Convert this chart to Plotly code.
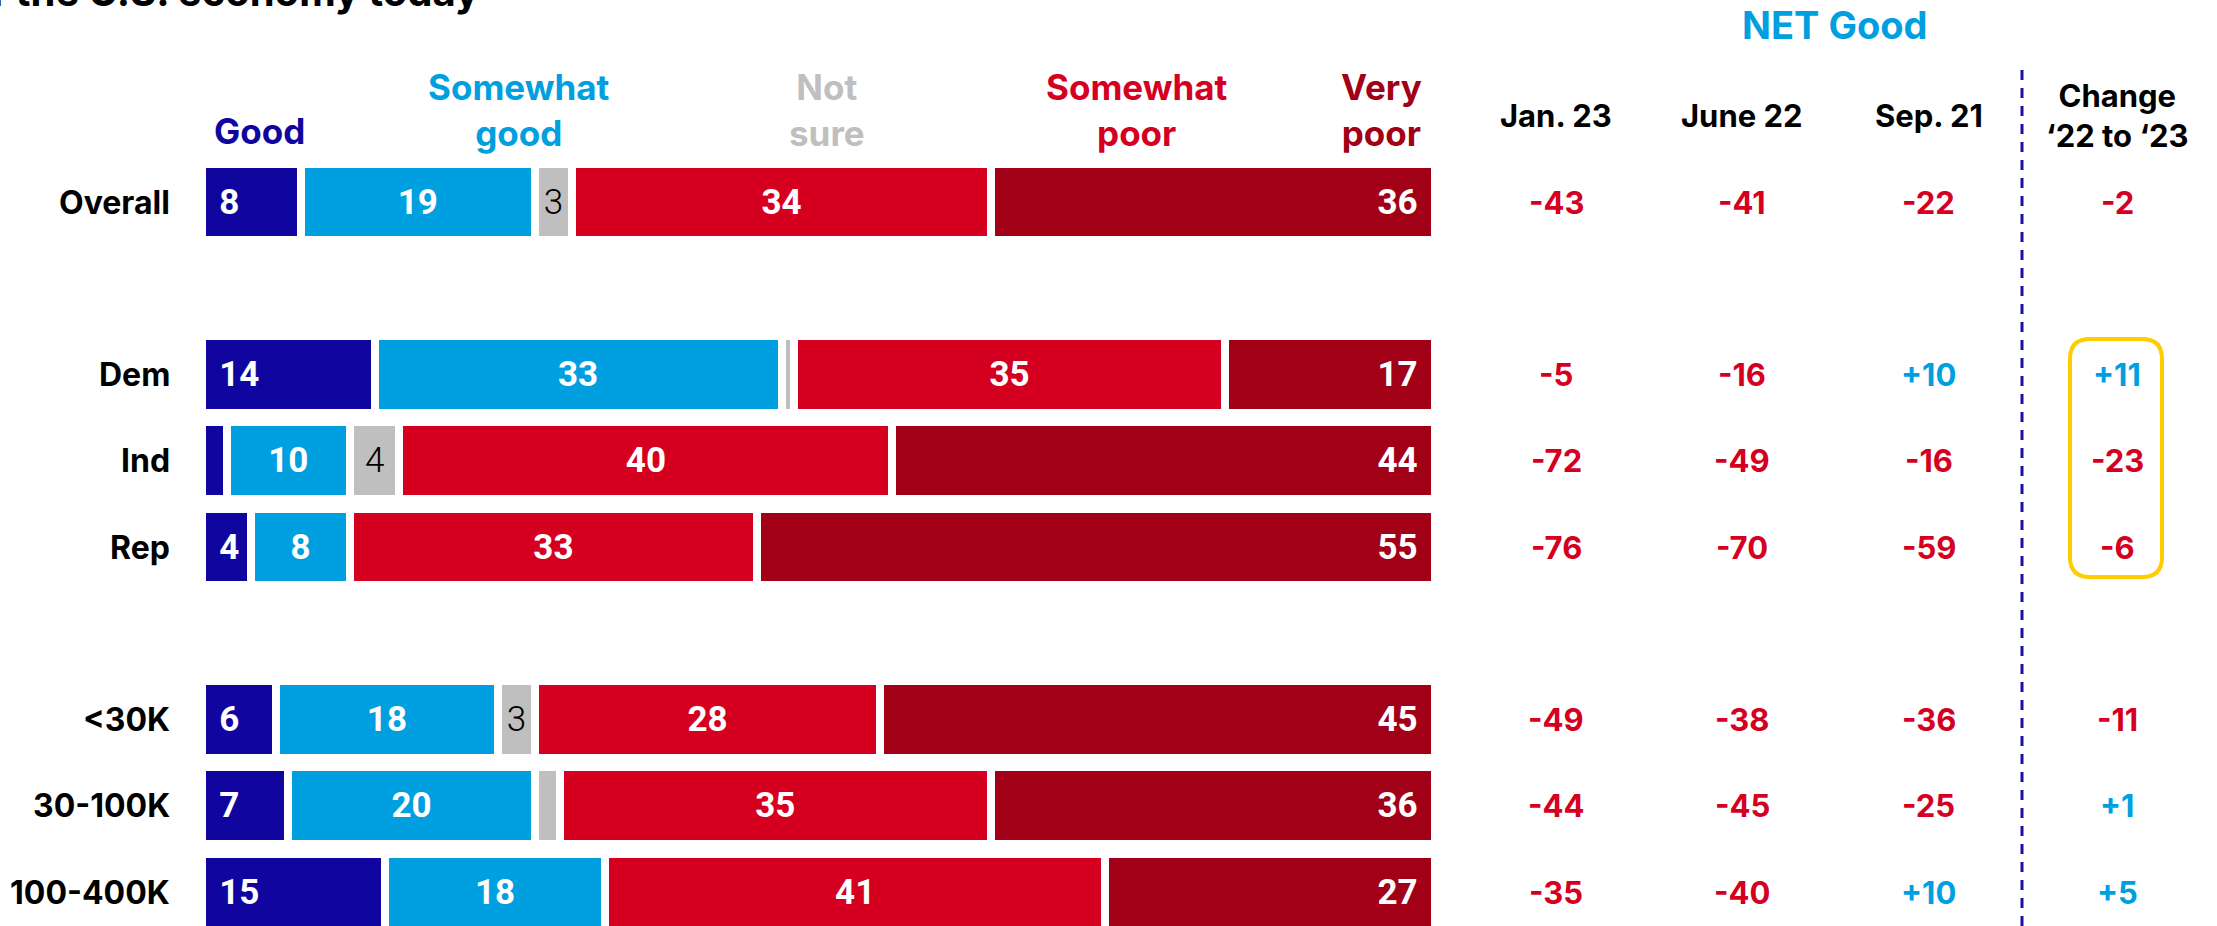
import plotly.graph_objects as go

W, H = 2217, 926

# ---------------- data ----------------
groups = ["Overall", "Dem", "Ind", "Rep", "<30K", "30-100K", "100-400K"]
row_pos = [0, 2, 3, 4, 6, 7, 8]

good = [8, 14, 2, 4, 6, 7, 15]
somewhat_good = [19, 33, 10, 8, 18, 20, 18]
not_sure = [3, 1, 4, 0, 3, 2, 0]
somewhat_poor = [34, 35, 40, 33, 28, 35, 41]
very_poor = [36, 17, 44, 55, 45, 36, 27]

net_jan23 = [-43, -5, -72, -76, -49, -44, -35]
net_june22 = [-41, -16, -49, -70, -38, -45, -40]
net_sep21 = [-22, 10, -16, -59, -36, -25, 10]
change_22_23 = [-2, 11, -23, -6, -11, 1, 5]

series_names = ["Good", "Somewhat<br>good", "Not<br>sure", "Somewhat<br>poor", "Very<br>poor"]
column_names = ["Jan. 23", "June 22", "Sep. 21", "Change<br>‘22 to ‘23"]

# ---------------- style ----------------
C_GOOD = "#10069F"
C_SGOOD = "#009FDF"
C_NS = "#BFBFBF"
C_SPOOR = "#D5001F"
C_VPOOR = "#A10016"
FONT = "Inter"

def px_x(p):
    return p / W

def px_y(p):
    return 1 - p / H

all_series = [good, somewhat_good, not_sure, somewhat_poor, very_poor]
row_totals = [sum(s[i] for s in all_series) for i in range(len(groups))]

fig = go.Figure()

styles = [
    (C_GOOD, "start", "white", 700, "\u2009\u2009"),
    (C_SGOOD, "middle", "white", 700, ""),
    (C_NS, "middle", "black", 300, ""),
    (C_SPOOR, "middle", "white", 700, ""),
    (C_VPOOR, "end", "white", 700, "\u2009\u2009"),
]
for vals, (col, anchor, tcol, wt, pad), name in zip(all_series, styles, series_names):
    fig.add_trace(go.Bar(
        y=row_pos, x=[v * 100 / t for v, t in zip(vals, row_totals)], orientation="h",
        name=name.replace("<br>", " "),
        marker=dict(color=col, line=dict(color="white", width=8)),
        width=0.89,
        text=[(pad + str(v) + pad) if v >= 3 else "" for v in vals],
        textposition="inside", insidetextanchor=anchor, textangle=0,
        constraintext="none",
        textfont=dict(family="Roboto", size=35, color=tcol, weight=wt),
        hoverinfo="skip",
    ))

fig.update_layout(
    width=W, height=H, barmode="stack", showlegend=False,
    margin=dict(l=0, r=0, t=0, b=0),
    paper_bgcolor="white", plot_bgcolor="white",
    xaxis=dict(domain=[px_x(202), px_x(1435)], range=[0, 100], visible=False, fixedrange=True),
    yaxis=dict(domain=[0, 1], range=[8 + (H - 892) / 86.25, -202 / 86.25], visible=False, fixedrange=True),
)

ann = []
# title (cut off at top)
ann.append(dict(xref="paper", yref="paper", x=px_x(481), y=px_y(-9), xanchor="right", yanchor="middle",
                text="<b>Views of the U.S. economy today</b>", showarrow=False,
                font=dict(family=FONT, size=40, color="black", weight=800)))

# series headers
hdr_x = [259, 519, 827, 1137, 1381]
hdr_col = [C_GOOD, C_SGOOD, C_NS, C_SPOOR, C_VPOOR]
for name, x, c in zip(series_names, hdr_x, hdr_col):
    yy = 131 if "<br>" not in name else 110
    ann.append(dict(xref="paper", yref="paper", x=px_x(x), y=px_y(yy), xanchor="center", yanchor="middle",
                    text=f"<b>{name}</b>", showarrow=False, align="center",
                    font=dict(family=FONT, size=35, color=c, weight=800)))

# row labels
for g, yp in zip(groups, row_pos):
    ann.append(dict(xref="paper", yref="y", x=px_x(172), y=yp, xanchor="right", yanchor="middle",
                    text=f"<b>{g}</b>", showarrow=False,
                    font=dict(family=FONT, size=32, color="black", weight=800)))

# NET Good header
ann.append(dict(xref="paper", yref="paper", x=px_x(1835), y=px_y(25), xanchor="center", yanchor="middle",
                text="<b>NET Good</b>", showarrow=False,
                font=dict(family=FONT, size=38, color=C_SGOOD, weight=800)))

col_x = [1556, 1742, 1929, 2117]
for name, x in zip(column_names, col_x):
    yy = 115 if "<br>" not in name else 116
    ann.append(dict(xref="paper", yref="paper", x=px_x(x), y=px_y(yy), xanchor="center", yanchor="middle",
                    text=f"<b>{name}</b>", showarrow=False, align="center",
                    font=dict(family=FONT, size=31, color="black", weight=800)))

for vals, x in zip([net_jan23, net_june22, net_sep21, change_22_23], col_x):
    for v, yp in zip(vals, row_pos):
        txt = f"+{v}" if v > 0 else f"{v}"
        c = C_SGOOD if v > 0 else C_SPOOR
        ann.append(dict(xref="paper", yref="y", x=px_x(x), y=yp, xanchor="center", yanchor="middle",
                        text=f"<b>{txt}</b>", showarrow=False,
                        font=dict(family=FONT, size=31, color=c, weight=800)))

fig.update_layout(annotations=ann)

# dashed divider
fig.add_shape(type="line", xref="paper", yref="paper", x0=px_x(2022), x1=px_x(2022),
              y0=0, y1=px_y(62), line=dict(color="#1A12A0", width=3, dash="10px,8px"))

# yellow rounded highlight box
x0, x1, y0, y1, r = 2070, 2162, 339, 577, 20
def P(x, y):
    return f"{px_x(x):.5f},{px_y(y):.5f}"
path = (f"M {P(x0 + r, y0)} L {P(x1 - r, y0)} Q {P(x1, y0)} {P(x1, y0 + r)} "
        f"L {P(x1, y1 - r)} Q {P(x1, y1)} {P(x1 - r, y1)} "
        f"L {P(x0 + r, y1)} Q {P(x0, y1)} {P(x0, y1 - r)} "
        f"L {P(x0, y0 + r)} Q {P(x0, y0)} {P(x0 + r, y0)} Z")
fig.add_shape(type="path", xref="paper", yref="paper", path=path,
              line=dict(color="#FFCC00", width=4), fillcolor="rgba(0,0,0,0)")

fig.write_html("out.html")
